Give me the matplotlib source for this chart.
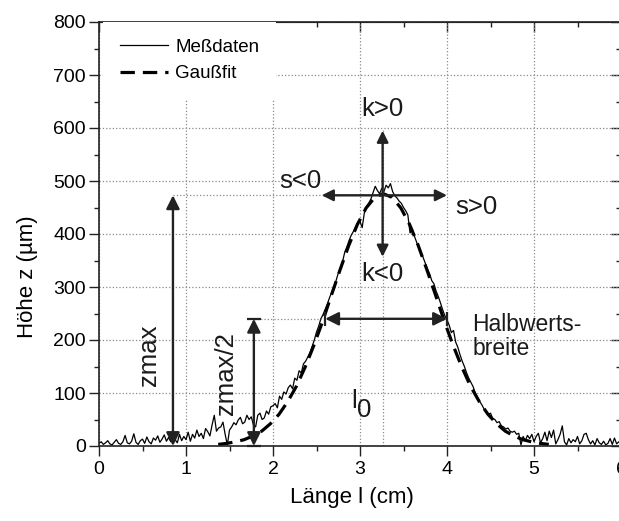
import matplotlib
matplotlib.use("Agg")
import matplotlib.pyplot as plt
import numpy as np

plt.rcParams['font.family'] = ['Liberation Sans', 'DejaVu Sans']

z_mess = [
    5, 8, 3, 6, 10, 4, 2, 7, 12, 5, 3, 8, 20, 6, 4, 9, 23, 7, 3, 10,            # 0.0 - 0.475
    13, 5, 17, 8, 4, 15, 11, 19, 7, 13, 21, 9, 16, 8, 24, 12, 6, 22, 10, 18,    # 0.5 - 0.975
    12, 26, 9, 22, 15, 30, 18, 24, 14, 33, 27, 19, 40, 58, 28, 34, 36, 45, 22, 2,  # 1.0 - 1.475
    30, 36, 44, 40, 49, 54, 42, 45, 58, 50, 55, 40, 36, 58, 62, 50, 53, 66, 60, 74,  # 1.5 - 1.975
    76, 80, 72, 94, 88, 102, 98, 110, 115, 108, 128, 124, 142, 138, 155, 160, 168, 176, 188, 200,  # 2.0 - 2.475
    215, 226, 240, 248, 258, 268, 280, 290, 300, 312, 326, 336, 348, 366, 376, 388, 398, 405, 414, 422,  # 2.5 - 2.975
    424, 412, 440, 452, 458, 466, 478, 490, 482, 476, 486, 480, 492, 487, 495, 480, 472, 468, 462, 458,  # 3.0 - 3.475
    450, 444, 436, 402, 410, 396, 385, 374, 365, 356, 345, 334, 325, 312, 306, 292, 282, 270, 257, 246,  # 3.5 - 3.975
    238, 228, 214, 218, 196, 186, 172, 160, 150, 138, 128, 120, 112, 100, 92, 84, 78, 70, 66, 60,  # 4.0 - 4.475
    62, 52, 50, 44, 46, 38, 36, 32, 34, 28, 26, 28, 22, 24, 2, 18, 10, 20, 14, 22,  # 4.5 - 4.975
    8, 18, 24, 6, 14, 26, 10, 28, 16, 30, 4, 12, 22, 38, 8, 2, 14, 6, 12, 8,    # 5.0 - 5.475
    18, 4, 10, 22, 24, 12, 4, 10, 2, 14, 6, 3, 9, 2, 5, 14, 3, 15, 4, 8, 3,     # 5.5 - 6.0
]
l_mess = np.linspace(0, 6, len(z_mess))

# Gauss fit curve
l_fit = [1.37, 1.47, 1.57, 1.67, 1.77, 1.87, 1.97, 2.07, 2.17, 2.27, 2.37,
         2.47, 2.57, 2.67, 2.77, 2.87, 2.97, 3.07, 3.17, 3.27, 3.37, 3.47, 3.57,
         3.67, 3.77, 3.87, 3.97, 4.07, 4.17, 4.27, 4.37, 4.47, 4.57, 4.67, 4.77,
         4.87, 4.97, 5.07, 5.17]
z_fit = [3, 5, 8, 12, 19, 28, 42, 60, 84, 113, 149,
         190, 235, 284, 332, 378, 418, 449, 469, 476, 469, 449, 418,
         378, 332, 284, 235, 190, 149, 113, 84, 60, 42, 28, 19,
         12, 8, 5, 3]

z_max = 473
l_null = 3.26
fwhm_links, fwhm_rechts = 2.6, 4.0

fig = plt.figure(figsize=(6.19, 5.21), dpi=100)
ax = fig.add_axes([99 / 619, 1 - 446 / 521, 522 / 619, 424 / 521])

ax.grid(True, which='major', linestyle=':', color='#8a8a8a', lw=0.9)
ax.plot(l_mess, z_mess, color='black', lw=0.9, label='Meßdaten')
ax.plot(l_fit, z_fit, color='black', lw=2.3, ls=(0, (4.5, 2.5)), label='Gaußfit')

ax.set_xlim(0, 6)
ax.set_ylim(0, 800)
ax.set_xticks(np.arange(0, 7, 1))
ax.set_yticks(np.arange(0, 900, 100))
ax.set_xticks(np.arange(0.5, 6, 1), minor=True)
ax.set_yticks(np.arange(50, 800, 100), minor=True)
ax.tick_params(which='major', direction='out', length=7, width=1, labelsize=14, color='#222')
ax.tick_params(which='minor', direction='out', length=3.5, width=1, color='#222')
ax.tick_params(axis='x', pad=4)
ax.tick_params(axis='y', pad=2.5)
for s in ax.spines.values():
    s.set_linewidth(1.2)
    s.set_color('#222')

top = ax.secondary_xaxis('top')
top.set_xticks(np.arange(0, 7, 1))
top.set_xticks(np.arange(0.5, 6, 1), minor=True)
top.tick_params(which='major', direction='in', length=7, width=1, labeltop=False, color='#222')
top.tick_params(which='minor', direction='in', length=3.5, width=1, color='#222')
right = ax.secondary_yaxis('right')
right.set_yticks(np.arange(0, 900, 100))
right.set_yticks(np.arange(50, 800, 100), minor=True)
right.tick_params(which='major', direction='in', length=7, width=1, labelright=False, color='#222')
right.tick_params(which='minor', direction='in', length=3.5, width=1, color='#222')

leg = ax.legend(loc='upper left', bbox_to_anchor=(0.008, 1.0), borderaxespad=0,
                fontsize=13.5, frameon=True, framealpha=1, edgecolor='none',
                facecolor='white', fancybox=False, borderpad=0.9,
                handlelength=2.55, handletextpad=0.4, labelspacing=0.5)
leg.set_zorder(5)

fig.text(352 / 619, 1 - 497 / 521, 'Länge l (cm)', ha='center', va='center', fontsize=16)
fig.text(28 / 619, 1 - 277 / 521, 'Höhe z (µm)', ha='center', va='center', fontsize=16, rotation=90)

# helper lines
ref = dict(color='#8a8a8a', lw=0.9, ls=':')
ax.plot([0.85, 3.3], [z_max, z_max], **ref)
ax.plot([1.78, fwhm_links], [240, 240], **ref)
ax.plot([l_null, l_null], [0, 600], **ref)


def pfeil(p0, p1, style='<|-|>', scale=20):
    ax.annotate('', xy=p1, xytext=p0,
                arrowprops=dict(arrowstyle=style, color='#222', lw=1.7,
                                mutation_scale=scale, shrinkA=0, shrinkB=0))


pfeil((0.85, 0), (0.85, z_max))
pfeil((1.78, 0), (1.78, 240))
ax.plot([1.78, 1.78], [0, 240], ls='none', marker='_',
        ms=10, mew=1.6, color='#222', clip_on=False)
pfeil((fwhm_links, 240), (fwhm_rechts, 240))
ax.plot([fwhm_links, fwhm_rechts], [240, 240], ls='none', marker='|',
        ms=10, mew=1.6, color='#222')
pfeil((2.56, z_max), (4.0, z_max), scale=17)
pfeil((l_null, 357), (l_null, 595), scale=17)

txt = dict(fontsize=18.5, color='#1a1a1a', ha='center', va='center')
ax.text(0.57, 172, 'zmax', rotation=90, **txt)
ax.text(1.46, 136, 'zmax/2', rotation=90, **txt)
ax.text(2.31, 500, 's<0', **txt)
ax.text(4.34, 450, 's>0', **txt)
ax.text(l_null, 635, 'k>0', **txt)
ax.text(l_null, 325, 'k<0', **txt)
ax.text(2.93, 85, 'l', **txt)
ax.text(3.05, 68, '0', **txt)
ax.text(4.29, 206, 'Halbwerts-\nbreite', fontsize=16.5, color='#1a1a1a',
        ha='left', va='center', linespacing=1.05)

fig.savefig('out.png', dpi=100)
